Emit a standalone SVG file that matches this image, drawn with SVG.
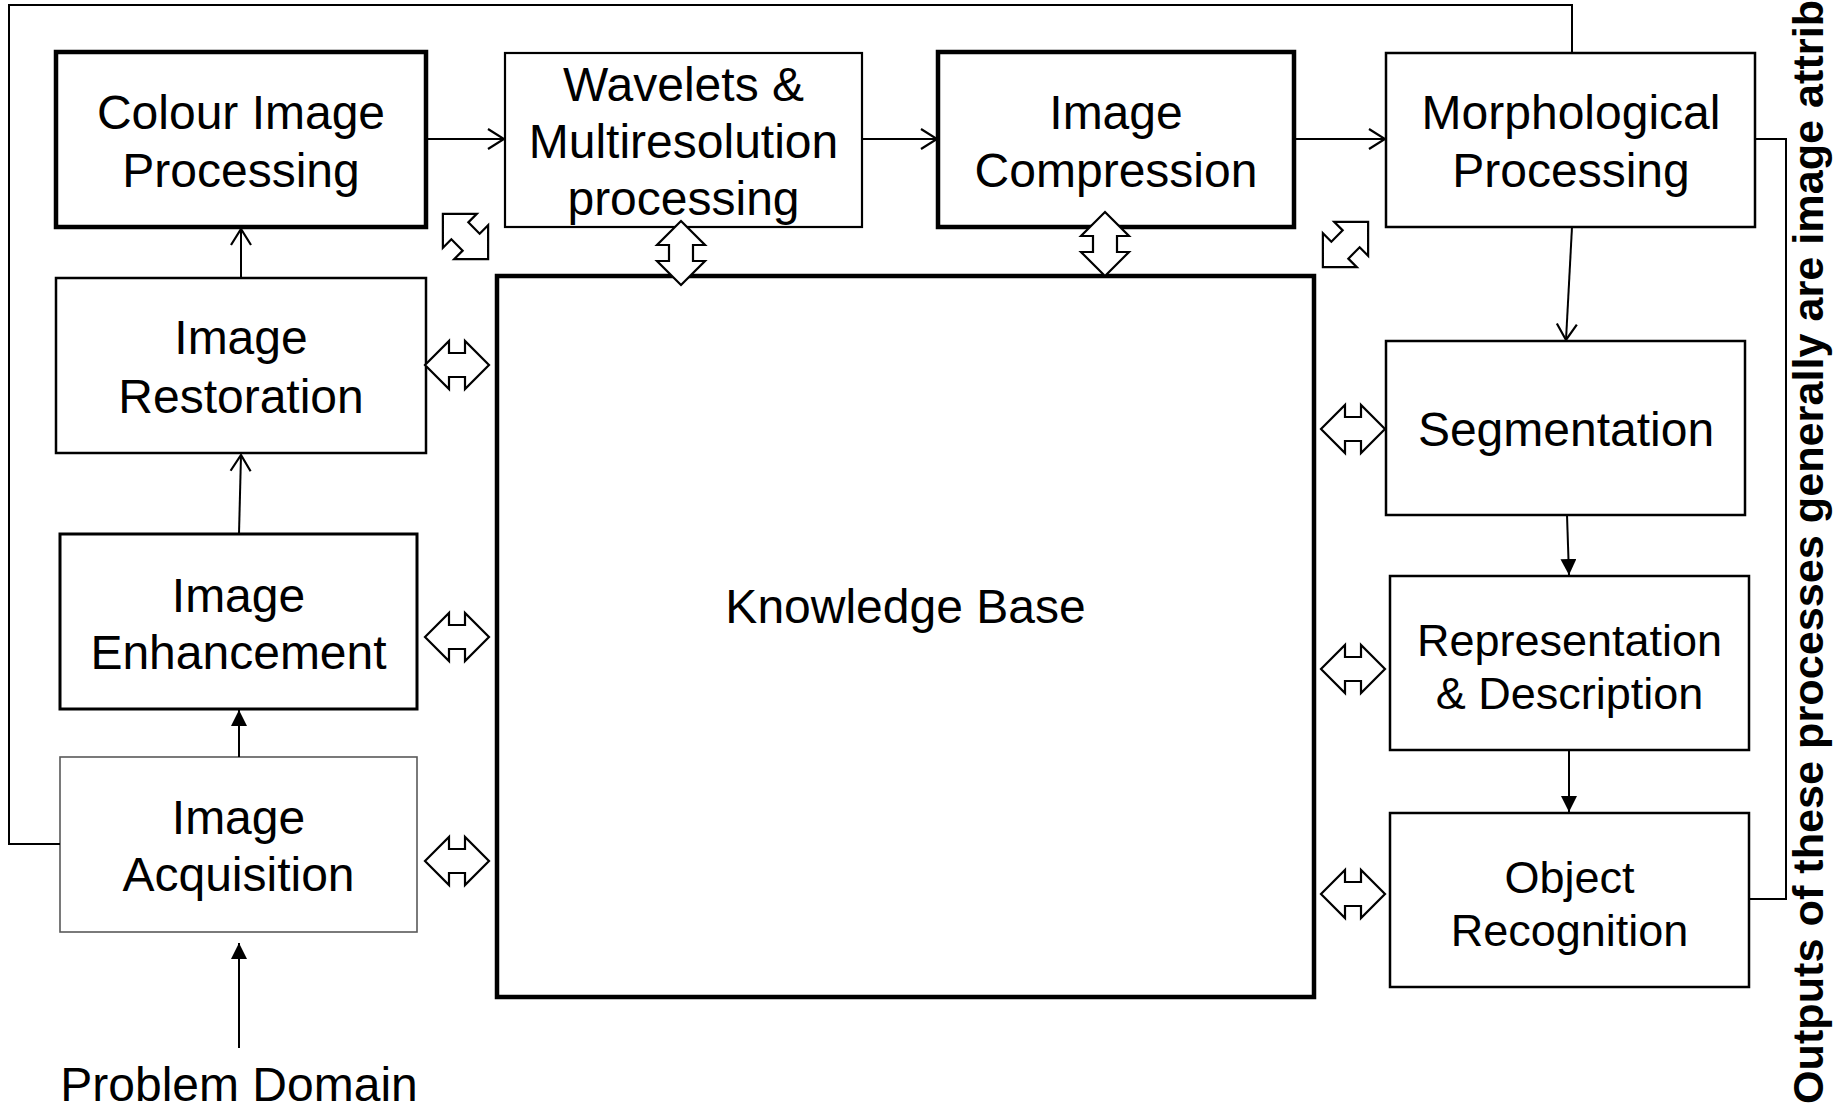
<svg xmlns="http://www.w3.org/2000/svg" width="1840" height="1108" viewBox="0 0 1840 1108">
<style>
  .box{fill:#fff;stroke:#000;stroke-width:2.5}
  .thick{stroke-width:4.5}
  .grey{stroke:#595959;stroke-width:1.6}
  .t{font-family:"Liberation Sans",Arial,sans-serif;font-size:48px;fill:#000;text-anchor:middle}
  .s45{font-size:45px}
  .ln{fill:none;stroke:#000;stroke-width:2}
  .dbl{fill:#fff;stroke:#000;stroke-width:2.2;stroke-linejoin:miter}
</style>
<defs>
  <marker id="open" viewBox="0 0 20 24" refX="18" refY="12" markerWidth="20" markerHeight="24" markerUnits="userSpaceOnUse" orient="auto">
    <path d="M2,2 L18,12 L2,22" fill="none" stroke="#000" stroke-width="2.2"/>
  </marker>
  <marker id="solid" viewBox="0 0 16 16" refX="16" refY="8" markerWidth="16" markerHeight="16" markerUnits="userSpaceOnUse" orient="auto">
    <path d="M0,0 L16,8 L0,16 Z" fill="#000"/>
  </marker>
  <path id="dblarrow" d="M-32,0 L-8,-24 L-8,-12 L8,-12 L8,-24 L32,0 L8,24 L8,12 L-8,12 L-8,24 Z"/>
</defs>

<g id="kb">
  <rect class="box thick" x="497" y="276" width="817" height="721"/>
  <text class="t" x="905.5" y="623">Knowledge Base</text>
</g>
<g id="colour">
  <rect class="box thick" x="56" y="52" width="370" height="175"/>
  <text class="t" x="241" y="129">Colour Image</text>
  <text class="t" x="241" y="187">Processing</text>
</g>
<g id="wavelets">
  <rect class="box" x="505" y="53" width="357" height="174" style="stroke-width:2.2"/>
  <text class="t" x="683.5" y="101">Wavelets &amp;</text>
  <text class="t" x="683.5" y="158">Multiresolution</text>
  <text class="t" x="683.5" y="215">processing</text>
</g>
<g id="compression">
  <rect class="box thick" x="938" y="52" width="356" height="175"/>
  <text class="t" x="1116" y="129">Image</text>
  <text class="t" x="1116" y="187">Compression</text>
</g>
<g id="morphological">
  <rect class="box" x="1386" y="53" width="369" height="174"/>
  <text class="t" x="1571" y="129">Morphological</text>
  <text class="t" x="1571" y="187">Processing</text>
</g>
<g id="restoration">
  <rect class="box" x="56" y="278" width="370" height="175"/>
  <text class="t" x="241" y="354">Image</text>
  <text class="t" x="241" y="413">Restoration</text>
</g>
<g id="enhancement">
  <rect class="box" x="60" y="534" width="357" height="175" style="stroke-width:3"/>
  <text class="t" x="238.5" y="612">Image</text>
  <text class="t" x="238.5" y="669">Enhancement</text>
</g>
<g id="acquisition">
  <rect class="box grey" x="60" y="757" width="357" height="175"/>
  <text class="t" x="238.5" y="834">Image</text>
  <text class="t" x="238.5" y="891">Acquisition</text>
</g>
<g id="segmentation">
  <rect class="box" x="1386" y="341" width="359" height="174"/>
  <text class="t" x="1566" y="446">Segmentation</text>
</g>
<g id="representation">
  <rect class="box" x="1390" y="576" width="359" height="174"/>
  <text class="t s45" x="1569.5" y="656">Representation</text>
  <text class="t s45" x="1569.5" y="709">&amp; Description</text>
</g>
<g id="recognition">
  <rect class="box" x="1390" y="813" width="359" height="174"/>
  <text class="t s45" x="1569.5" y="893">Object</text>
  <text class="t s45" x="1569.5" y="946">Recognition</text>
</g>
<g id="problem-domain">
  <text class="t" x="239" y="1101">Problem Domain</text>
</g>
<g id="outputs-note">
  <text transform="translate(1823,1104) rotate(-90)" style="font-family:'Liberation Sans',Arial,sans-serif;font-size:43.2px;font-weight:bold;fill:#000">Outputs of these processes generally are image attrib</text>
</g>

<g id="connectors">
  <path class="ln" d="M60,844 H9 V5 H1572 V53"/>
  <path class="ln" d="M1755,139 H1786 V899 H1749"/>
  <line class="ln" x1="426" y1="139" x2="504" y2="139" marker-end="url(#open)"/>
  <line class="ln" x1="862" y1="139" x2="937" y2="139" marker-end="url(#open)"/>
  <line class="ln" x1="1294" y1="139" x2="1385" y2="139" marker-end="url(#open)"/>
  <line class="ln" x1="1572" y1="227" x2="1566" y2="340" marker-end="url(#open)"/>
  <line class="ln" x1="241" y1="278" x2="241" y2="229" marker-end="url(#open)"/>
  <line class="ln" x1="239" y1="534" x2="241" y2="455" marker-end="url(#open)"/>
  <line class="ln" x1="239" y1="757" x2="239" y2="710" marker-end="url(#solid)"/>
  <line class="ln" x1="1567" y1="515" x2="1569" y2="575" marker-end="url(#solid)"/>
  <line class="ln" x1="1569" y1="750" x2="1569" y2="812" marker-end="url(#solid)"/>
  <line class="ln" x1="239" y1="1048" x2="239" y2="943" marker-end="url(#solid)"/>
  <use href="#dblarrow" class="dbl" transform="translate(457,365)"/>
  <use href="#dblarrow" class="dbl" transform="translate(457,637)"/>
  <use href="#dblarrow" class="dbl" transform="translate(457,861)"/>
  <use href="#dblarrow" class="dbl" transform="translate(1353,429)"/>
  <use href="#dblarrow" class="dbl" transform="translate(1353,669)"/>
  <use href="#dblarrow" class="dbl" transform="translate(1353,894)"/>
  <use href="#dblarrow" class="dbl" transform="translate(681,253) rotate(90)"/>
  <use href="#dblarrow" class="dbl" transform="translate(1105,244) rotate(90)"/>
  <use href="#dblarrow" class="dbl" transform="translate(465.5,236.5) rotate(45)"/>
  <use href="#dblarrow" class="dbl" transform="translate(1345.5,244.5) rotate(-45)"/>
</g>
</svg>
